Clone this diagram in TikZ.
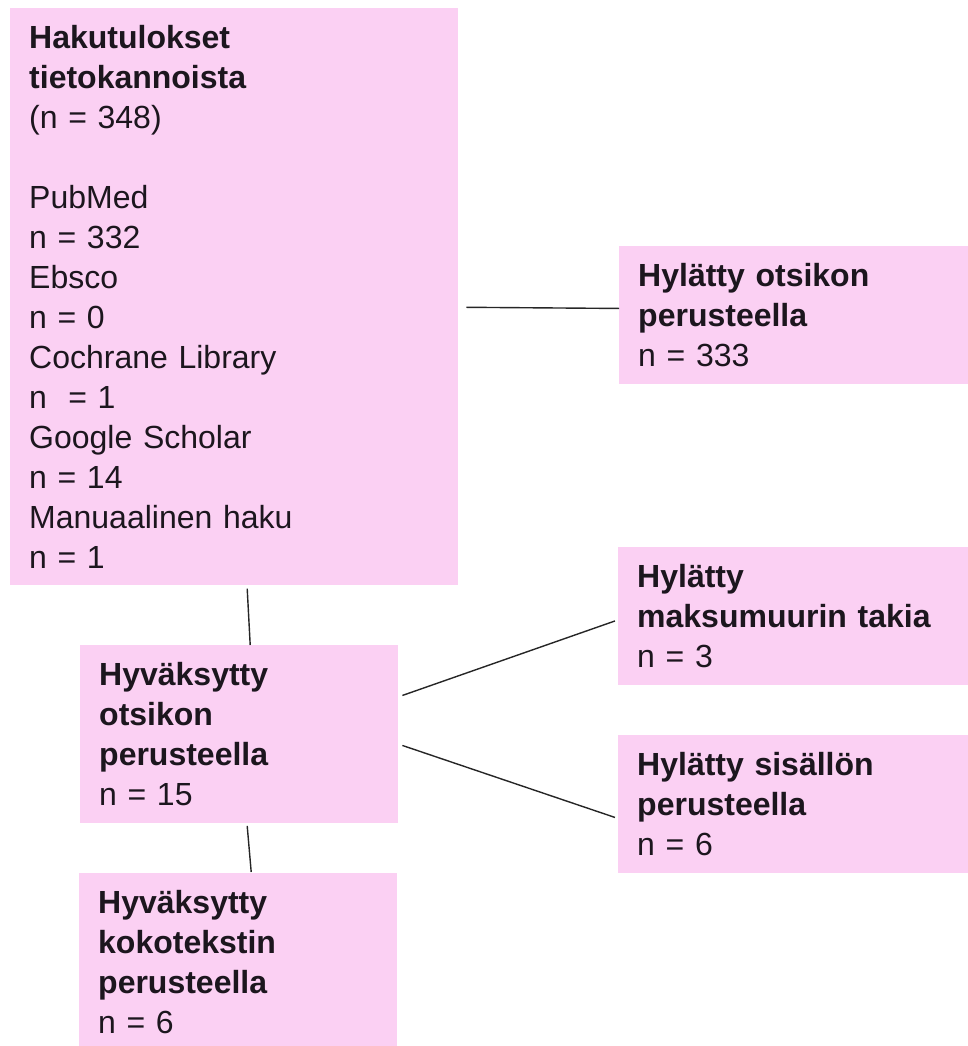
\documentclass[tikz,border=0pt]{standalone}
\usepackage{fontspec}
\setmainfont{Liberation Sans}
\definecolor{laatikko}{RGB}{251,208,243}
\definecolor{teksti}{RGB}{28,22,30}

\tikzset{
	laatikko/.style={fill=laatikko, anchor=north west, align=left, text=teksti,
		inner xsep=19pt, inner ysep=17pt,
		font=\fontsize{32}{40}\selectfont},
	viiva/.style={draw=black!85, line width=1.4pt}
}

\begin{document}
\begin{tikzpicture}[x=1pt, y=-1pt]
	\useasboundingbox (0, 0) rectangle (968, 1046);

	\node[laatikko, text width=410pt] (haku) at (10, 8)
		{\textbf{Hakutulokset}\\
		\textbf{tietokannoista}\\
		(n = 348)\\[40pt]
		PubMed\\
		n = 332\\
		Ebsco\\
		n = 0\\
		Cochrane Library\\
		n~ = 1\\
		Google Scholar\\
		n = 14\\
		Manuaalinen haku\\
		n = 1};

	\node[laatikko, text width=311pt] (hylotsikko) at (619, 246)
		{\textbf{Hylätty otsikon}\\
		\textbf{perusteella}\\
		n = 333};

	\node[laatikko, text width=280pt] (hyvotsikko) at (80, 645)
		{\textbf{Hyväksytty}\\
		\textbf{otsikon}\\
		\textbf{perusteella}\\
		n = 15};

	\node[laatikko, text width=312pt] (hylmaksu) at (618, 547)
		{\textbf{Hylätty}\\
		\textbf{maksumuurin takia}\\
		n = 3};

	\node[laatikko, text width=312pt] (hylsisalto) at (618, 735)
		{\textbf{Hylätty sisällön}\\
		\textbf{perusteella}\\
		n = 6};

	\node[laatikko, text width=280pt] (hyvkoko) at (79, 873)
		{\textbf{Hyväksytty}\\
		\textbf{kokotekstin}\\
		\textbf{perusteella}\\
		n = 6};

	\draw[viiva] ([xshift=8pt, yshift=-10.5pt]haku.east) -- ([yshift=6.5pt]hylotsikko.west);
	\draw[viiva] ([xshift=13pt, yshift=-3pt]haku.south) -- ([xshift=11pt]hyvotsikko.north);
	\draw[viiva] ([xshift=4pt, yshift=38.5pt]hyvotsikko.east) -- ([xshift=-3pt, yshift=-5pt]hylmaksu.west);
	\draw[viiva] ([xshift=4pt, yshift=-11.5pt]hyvotsikko.east) -- ([xshift=-3pt, yshift=-13.5pt]hylsisalto.west);
	\draw[viiva] ([xshift=8pt, yshift=-3pt]hyvotsikko.south) -- ([xshift=13pt, yshift=1pt]hyvkoko.north);
\end{tikzpicture}
\end{document}
